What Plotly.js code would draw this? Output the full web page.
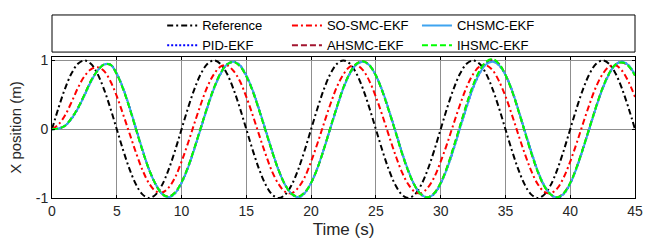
<!DOCTYPE html>
<html>
<head>
<meta charset="utf-8">
<script src="https://cdn.plot.ly/plotly-3.0.1.min.js"></script>
<style>html,body{margin:0;padding:0;background:#fff;}#chart{width:646px;height:242px;}</style>
</head>
<body>
<div id="chart"></div>
<script>
// Time samples (s)
const timeS = [0,0.5,1,1.5,2,2.5,3,3.5,4,4.5,5,5.5,6,6.5,7,7.5,8,8.5,9,9.5,
  10,10.5,11,11.5,12,12.5,13,13.5,14,14.5,15,15.5,16,16.5,17,17.5,18,18.5,19,19.5,
  20,20.5,21,21.5,22,22.5,23,23.5,24,24.5,25,25.5,26,26.5,27,27.5,28,28.5,29,29.5,
  30,30.5,31,31.5,32,32.5,33,33.5,34,34.5,35,35.5,36,36.5,37,37.5,38,38.5,39,39.5,
  40,40.5,41,41.5,42,42.5,43,43.5,44,44.5,45];

const reference = [0,0.309,0.588,0.809,0.951,1,0.951,0.809,0.588,0.309,0,-0.309,-0.588,-0.809,-0.951,-1,-0.951,-0.809,-0.588,-0.309,
  0,0.309,0.588,0.809,0.951,1,0.951,0.809,0.588,0.309,0,-0.309,-0.588,-0.809,-0.951,-1,-0.951,-0.809,-0.588,-0.309,
  0,0.309,0.588,0.809,0.951,1,0.951,0.809,0.588,0.309,0,-0.309,-0.588,-0.809,-0.951,-1,-0.951,-0.809,-0.588,-0.309,
  0,0.309,0.588,0.809,0.951,1,0.951,0.809,0.588,0.309,0,-0.309,-0.588,-0.809,-0.951,-1,-0.951,-0.809,-0.588,-0.309,
  0,0.309,0.588,0.809,0.951,1,0.951,0.809,0.588,0.309,0];

const soSmcEkf = [0,0.07,0.20,0.39,0.60,0.77,0.87,0.90,0.85,0.70,0.48,0.21,-0.07,-0.35,-0.60,-0.79,-0.90,-0.92,-0.85,-0.70,
  -0.47,-0.20,0.09,0.37,0.62,0.80,0.91,0.93,0.85,0.70,0.47,0.20,-0.09,-0.37,-0.62,-0.80,-0.91,-0.93,-0.85,-0.70,
  -0.47,-0.20,0.09,0.37,0.62,0.80,0.91,0.93,0.86,0.70,0.47,0.20,-0.09,-0.37,-0.62,-0.80,-0.91,-0.93,-0.85,-0.70,
  -0.47,-0.21,0.08,0.36,0.61,0.80,0.91,0.93,0.86,0.70,0.48,0.21,-0.08,-0.36,-0.61,-0.80,-0.91,-0.93,-0.86,-0.70,
  -0.47,-0.20,0.09,0.37,0.62,0.80,0.91,0.93,0.85,0.69,0.47];

const chsmcEkf = [0,0.01,0.05,0.15,0.30,0.49,0.69,0.85,0.94,0.94,0.81,0.59,0.31,0.00,-0.31,-0.59,-0.80,-0.94,-0.99,-0.93,
  -0.78,-0.56,-0.28,0.02,0.32,0.59,0.80,0.94,0.98,0.93,0.78,0.56,0.28,-0.02,-0.32,-0.60,-0.81,-0.94,-0.99,-0.93,
  -0.78,-0.56,-0.28,0.02,0.32,0.60,0.81,0.94,0.98,0.93,0.78,0.56,0.28,-0.02,-0.33,-0.60,-0.82,-0.95,-0.99,-0.94,
  -0.79,-0.57,-0.29,0.02,0.32,0.60,0.81,0.94,0.98,0.93,0.79,0.57,0.28,-0.03,-0.33,-0.61,-0.82,-0.95,-0.99,-0.94,
  -0.79,-0.56,-0.28,0.02,0.32,0.59,0.80,0.94,0.98,0.93,0.79];

const pidEkf = [0,0.01,0.05,0.15,0.30,0.49,0.69,0.85,0.94,0.94,0.81,0.59,0.31,0.00,-0.31,-0.59,-0.80,-0.94,-0.99,-0.93,
  -0.78,-0.56,-0.28,0.02,0.32,0.59,0.80,0.94,0.98,0.93,0.78,0.56,0.28,-0.02,-0.32,-0.60,-0.81,-0.94,-0.99,-0.93,
  -0.78,-0.56,-0.28,0.02,0.32,0.60,0.81,0.94,0.98,0.93,0.78,0.56,0.28,-0.02,-0.33,-0.60,-0.82,-0.95,-0.99,-0.94,
  -0.79,-0.57,-0.29,0.02,0.32,0.60,0.81,0.95,0.99,0.93,0.79,0.57,0.28,-0.03,-0.33,-0.61,-0.82,-0.95,-1.00,-0.94,
  -0.79,-0.56,-0.28,0.02,0.32,0.59,0.80,0.94,0.98,0.93,0.79];

const ahsmcEkf = [0,0.01,0.05,0.16,0.31,0.50,0.70,0.85,0.94,0.94,0.80,0.58,0.30,-0.01,-0.32,-0.59,-0.80,-0.94,-0.98,-0.92,
  -0.77,-0.55,-0.27,0.03,0.33,0.60,0.81,0.94,0.98,0.92,0.77,0.55,0.27,-0.03,-0.33,-0.60,-0.81,-0.94,-0.98,-0.92,
  -0.78,-0.56,-0.28,0.03,0.33,0.61,0.82,0.95,0.99,0.93,0.78,0.55,0.27,-0.03,-0.34,-0.61,-0.82,-0.95,-0.99,-0.93,
  -0.78,-0.55,-0.26,0.05,0.36,0.63,0.84,0.97,1.01,0.95,0.79,0.56,0.27,-0.04,-0.35,-0.62,-0.83,-0.95,-0.99,-0.93,
  -0.78,-0.55,-0.27,0.03,0.33,0.60,0.81,0.94,0.97,0.92,0.78];

const ihsmcEkf = [0,0.01,0.05,0.16,0.31,0.50,0.70,0.85,0.94,0.94,0.80,0.58,0.30,-0.01,-0.32,-0.59,-0.80,-0.94,-0.98,-0.92,
  -0.77,-0.55,-0.27,0.03,0.33,0.60,0.81,0.94,0.98,0.92,0.77,0.55,0.27,-0.03,-0.33,-0.60,-0.81,-0.94,-0.98,-0.92,
  -0.78,-0.56,-0.28,0.03,0.33,0.61,0.82,0.95,0.99,0.93,0.78,0.55,0.27,-0.03,-0.34,-0.61,-0.82,-0.95,-0.99,-0.93,
  -0.78,-0.55,-0.26,0.05,0.36,0.64,0.85,0.98,1.02,0.95,0.79,0.56,0.27,-0.04,-0.35,-0.62,-0.83,-0.95,-0.99,-0.93,
  -0.78,-0.55,-0.27,0.03,0.33,0.60,0.81,0.94,0.97,0.92,0.78];

const xTicks = [0,5,10,15,20,25,30,35,40,45];
const yTicks = [-1,0,1];

const FONT = 'Liberation Sans, Arial, Helvetica, sans-serif';

function tr(y, name, color, dash, legend) {
  return {x: timeS, y: y, name: name, type: 'scatter', mode: 'lines',
    line: {color: color, width: 2, dash: dash, shape: 'spline', smoothing: 1},
    legend: legend, hoverinfo: 'skip'};
}

const data = [
  tr(reference, 'Reference', '#000000', '6px,3px,2px,3px', 'legend'),
  tr(pidEkf, 'PID-EKF', '#0000ff', '2px,2px', 'legend'),
  tr(soSmcEkf, 'SO-SMC-EKF', '#ff0000', '6px,3px,2px,3px', 'legend2'),
  tr(ahsmcEkf, 'AHSMC-EKF', '#a2142f', '6px,3px', 'legend2'),
  tr(chsmcEkf, 'CHSMC-EKF', '#3fa4f0', 'solid', 'legend3'),
  tr(ihsmcEkf, 'IHSMC-EKF', '#00ff00', '6px,3px', 'legend3')
];

const legBase = {orientation: 'v', xanchor: 'left', yanchor: 'top', y: 1.33,
  bgcolor: 'rgba(0,0,0,0)', borderwidth: 0, font: {family: FONT, size: 13, color: '#000'},
  tracegroupgap: 0};

const layout = {
  width: 646, height: 242,
  margin: {l: 52, r: 11, t: 57, b: 44, pad: 0},
  paper_bgcolor: '#fff', plot_bgcolor: '#fff',
  font: {family: FONT, color: '#262626'},
  showlegend: true,
  legend: Object.assign({}, legBase, {x: 0.189}),
  legend2: Object.assign({}, legBase, {x: 0.403}),
  legend3: Object.assign({}, legBase, {x: 0.626}),
  xaxis: {
    range: [0, 45], tickvals: xTicks, ticktext: xTicks.map(String),
    showgrid: true, gridcolor: '#8f8f8f', gridwidth: 1, zeroline: false,
    showline: true, linecolor: '#000', linewidth: 1, mirror: 'ticks',
    ticks: 'inside', ticklen: 3, tickcolor: '#000',
    tickfont: {family: FONT, size: 14, color: '#262626'},
    title: {text: 'Time (s)', font: {family: FONT, size: 17, color: '#262626'}, standoff: 5},
    automargin: false
  },
  yaxis: {
    range: [-1, 1.05], tickvals: yTicks, ticktext: yTicks.map(String),
    showgrid: true, gridcolor: '#8f8f8f', gridwidth: 1, zeroline: false,
    showline: true, linecolor: '#000', linewidth: 1, mirror: 'ticks',
    ticks: 'inside', ticklen: 3, tickcolor: '#000',
    tickfont: {family: FONT, size: 14, color: '#262626'},
    title: {text: 'X position (m)', font: {family: FONT, size: 15, color: '#262626'}, standoff: 10},
    automargin: false
  },
  shapes: [{
    type: 'rect', xref: 'paper', yref: 'paper', x0: 0, x1: 1, y0: 1.035, y1: 1.298,
    line: {color: '#000', width: 1}, fillcolor: '#fff', layer: 'below'
  }]
};

Plotly.newPlot('chart', data, layout, {staticPlot: true, displayModeBar: false});
</script>
</body>
</html>
